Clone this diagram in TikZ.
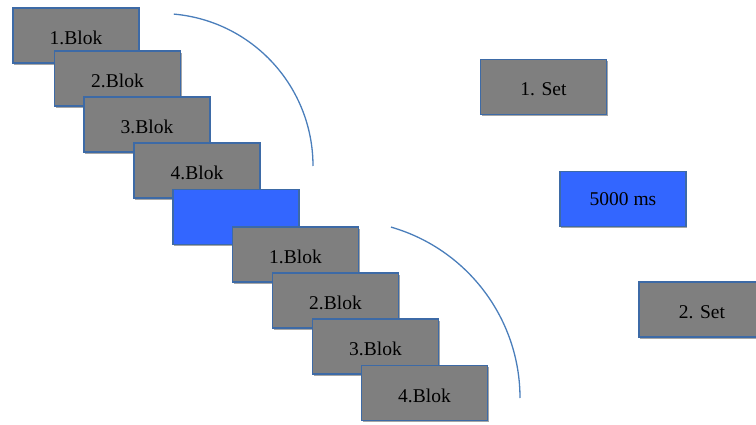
\documentclass[tikz,border=0pt]{standalone}
\usepackage{fontspec}
\setmainfont{Liberation Serif}
\usetikzlibrary{shadows}
\definecolor{boxgray}{HTML}{7F7F7F}
\definecolor{boxedge}{HTML}{3D6AA6}
\definecolor{boxblue}{HTML}{3366FF}
\definecolor{arccol}{HTML}{4A7EBB}
\tikzset{
  blok/.style={draw=boxedge, line width=1.3pt, fill=boxgray, minimum width=126pt, minimum height=55pt,
     inner sep=0pt, font=\fontsize{19.5}{22}\selectfont, text=black, text height=18pt, text depth=0pt,
     drop shadow={shadow xshift=1.2pt, shadow yshift=-1.8pt, opacity=0.35, fill=black}},
  blueblok/.style={blok, fill=boxblue, text height=13pt},
  arcline/.style={draw=arccol, line width=1.3pt}
}
\begin{document}
\begin{tikzpicture}[x=1pt,y=-1pt]
\useasboundingbox (0,0) rectangle (756,425);
\node[blok] (a1) at (76,35.5) {1.Blok};
\node[blok] (a2) at (117.5,78.5) {2.Blok};
\node[blok] (a3) at (147,124.5) {3.Blok};
\node[blok] (a4) at (197,170.5) {4.Blok};
\node[blueblok] (p) at (236,217) {};
\node[blok] (b1) at (295.5,254.5) {1.Blok};
\node[blok] (b2) at (335.5,300.5) {2.Blok};
\node[blok] (b3) at (375.5,346.5) {3.Blok};
\node[blok] (b4) at (424.5,393) {4.Blok};
\node[blok] (s1) at (543.5,87) {1. Set};
\node[blueblok] (ms) at (623,199) {5000 ms};
\node[blok] (s2) at (702,309.5) {2. Set};
\coordinate (r1s) at (173.8,14.1);
\coordinate (r1e) at (313,166);
\coordinate (r2s) at (391,227.1);
\coordinate (r2e) at (520,398);
\draw[arcline] (r1s) .. controls (252.6,21.0) and (313,86.9) .. (r1e);
\draw[arcline] (r2s) .. controls (467.2,249.0) and (520,318.7) .. (r2e);
\end{tikzpicture}
\end{document}
